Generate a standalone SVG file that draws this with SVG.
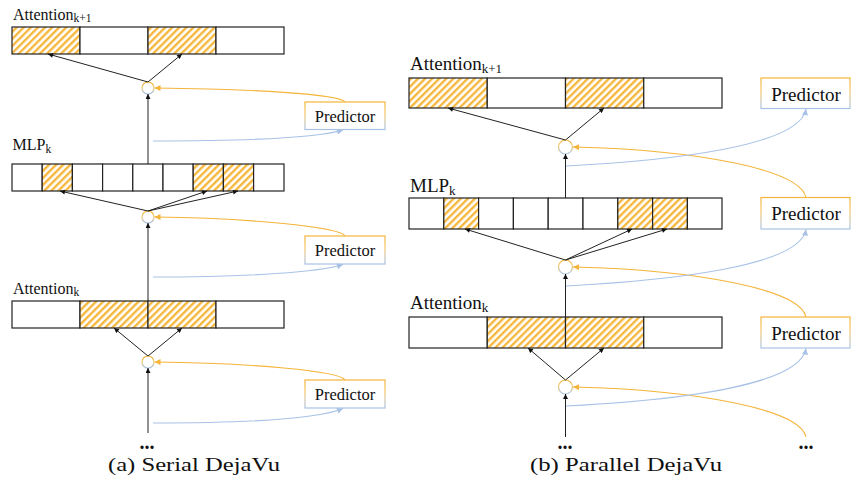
<svg xmlns="http://www.w3.org/2000/svg" width="852" height="496" viewBox="0 0 852 496">
  <style>
    .lbl { font-family: "Liberation Serif", "Tinos", "Times New Roman", "DejaVu Serif", serif; fill: #111; }
    .cap { font-family: "Liberation Serif", "Tinos", "Times New Roman", "DejaVu Serif", serif; fill: #111; font-size: 19px; }
    .cell { fill: #fff; stroke: #222; stroke-width: 1.2; }
    .hatch { fill: url(#stripes); stroke: #222; stroke-width: 1.2; }
    .pbox { fill: #fff; stroke: url(#yb); stroke-width: 1.2; }
    .gate { fill: #fff; stroke: url(#yb); stroke-width: 1.2; }
    .blk { fill: none; stroke: #222; stroke-width: 1; marker-end: url(#ah-k); }
    .yel { fill: none; stroke: #F5B43A; stroke-width: 1.1; marker-end: url(#ah-y); }
    .blu { fill: none; stroke: #A8C2E6; stroke-width: 1.1; marker-end: url(#ah-b); }
    .dots { font-family: "Liberation Serif", "Tinos", "DejaVu Serif", serif; font-weight: bold; font-size: 20px; fill: #111; }
  </style>
  <defs>
    <pattern id="stripes" width="5" height="5" patternUnits="userSpaceOnUse" patternTransform="rotate(45)">
      <rect width="5" height="5" fill="#fff"/>
      <rect width="2.4" height="5" fill="#F6B73C"/>
    </pattern>
    <linearGradient id="yb" x1="0" y1="0" x2="0" y2="1">
      <stop offset="0" stop-color="#F5B43A"/>
      <stop offset="0.45" stop-color="#F5C66A"/>
      <stop offset="1" stop-color="#A8C2E6"/>
    </linearGradient>
    <marker id="ah-k" viewBox="0 0 10 10" refX="10" refY="5" markerWidth="6" markerHeight="5" markerUnits="userSpaceOnUse" orient="auto">
      <path d="M0,0 L10,5 L0,10 z" fill="#111"/>
    </marker>
    <marker id="ah-y" viewBox="0 0 10 10" refX="10" refY="5" markerWidth="7" markerHeight="6" markerUnits="userSpaceOnUse" orient="auto">
      <path d="M0,0 L10,5 L0,10 z" fill="#F5B43A"/>
    </marker>
    <marker id="ah-b" viewBox="0 0 10 10" refX="10" refY="5" markerWidth="7" markerHeight="6" markerUnits="userSpaceOnUse" orient="auto">
      <path d="M0,0 L10,5 L0,10 z" fill="#A8C2E6"/>
    </marker>
  </defs>

  <!-- ===== (a) Serial ===== -->
  <g id="a-att-k1">
    <text class="lbl" x="13" y="19.5" font-size="16">Attention<tspan font-size="11.5" dy="2.5">k+1</tspan></text>
    <rect class="hatch" x="12" y="27" width="68" height="27"/>
    <rect class="cell" x="80" y="27" width="68" height="27"/>
    <rect class="hatch" x="148" y="27" width="68" height="27"/>
    <rect class="cell" x="216" y="27" width="68" height="27"/>
  </g>
  <g id="a-mlp-k">
    <text class="lbl" x="12.5" y="150" font-size="16">MLP<tspan font-size="11.5" dy="2.5">k</tspan></text>
    <rect class="cell" x="12" y="164" width="30.2" height="27"/>
    <rect class="hatch" x="42.2" y="164" width="30.2" height="27"/>
    <rect class="cell" x="72.4" y="164" width="30.2" height="27"/>
    <rect class="cell" x="102.6" y="164" width="30.2" height="27"/>
    <rect class="cell" x="132.8" y="164" width="30.2" height="27"/>
    <rect class="cell" x="163" y="164" width="30.2" height="27"/>
    <rect class="hatch" x="193.2" y="164" width="30.2" height="27"/>
    <rect class="hatch" x="223.4" y="164" width="30.2" height="27"/>
    <rect class="cell" x="253.6" y="164" width="30.4" height="27"/>
  </g>
  <g id="a-att-k">
    <text class="lbl" x="13" y="293.5" font-size="16">Attention<tspan font-size="11.5" dy="2.5">k</tspan></text>
    <rect class="cell" x="12" y="301" width="68" height="27"/>
    <rect class="hatch" x="80" y="301" width="68" height="27"/>
    <rect class="hatch" x="148" y="301" width="68" height="27"/>
    <rect class="cell" x="216" y="301" width="68" height="27"/>
  </g>
  <g id="a-pred-1">
    <rect class="pbox" x="305" y="102" width="80" height="27.5"/>
    <text class="lbl" x="345" y="121.5" font-size="16.5" text-anchor="middle">Predictor</text>
  </g>
  <g id="a-pred-2">
    <rect class="pbox" x="305" y="236" width="80" height="28"/>
    <text class="lbl" x="345" y="255.5" font-size="16.5" text-anchor="middle">Predictor</text>
  </g>
  <g id="a-pred-3">
    <rect class="pbox" x="305" y="380" width="80" height="28"/>
    <text class="lbl" x="345" y="399.5" font-size="16.5" text-anchor="middle">Predictor</text>
  </g>
  <g id="a-gate-1"><circle class="gate" cx="148" cy="88" r="6"/></g>
  <g id="a-gate-2"><circle class="gate" cx="148" cy="217" r="6"/></g>
  <g id="a-gate-3"><circle class="gate" cx="148" cy="362" r="6"/></g>
  <g id="a-more"><text class="dots" x="147" y="449" text-anchor="middle">...</text></g>
  <text class="cap" x="108" y="471" textLength="172" lengthAdjust="spacingAndGlyphs">(a) Serial DejaVu</text>

  <!-- ===== (b) Parallel ===== -->
  <g id="b-att-k1">
    <text class="lbl" x="410" y="69.5" font-size="19">Attention<tspan font-size="13" dy="3">k+1</tspan></text>
    <rect class="hatch" x="409" y="78" width="78.25" height="30"/>
    <rect class="cell" x="487.25" y="78" width="78.25" height="30"/>
    <rect class="hatch" x="565.5" y="78" width="78.25" height="30"/>
    <rect class="cell" x="643.75" y="78" width="78.25" height="30"/>
  </g>
  <g id="b-mlp-k">
    <text class="lbl" x="410" y="191.5" font-size="19">MLP<tspan font-size="13" dy="3">k</tspan></text>
    <rect class="cell" x="409" y="198" width="34.8" height="31"/>
    <rect class="hatch" x="443.8" y="198" width="34.8" height="31"/>
    <rect class="cell" x="478.6" y="198" width="34.8" height="31"/>
    <rect class="cell" x="513.4" y="198" width="34.8" height="31"/>
    <rect class="cell" x="548.2" y="198" width="34.8" height="31"/>
    <rect class="cell" x="583" y="198" width="34.8" height="31"/>
    <rect class="hatch" x="617.8" y="198" width="34.8" height="31"/>
    <rect class="hatch" x="652.6" y="198" width="34.8" height="31"/>
    <rect class="cell" x="687.4" y="198" width="34.6" height="31"/>
  </g>
  <g id="b-att-k">
    <text class="lbl" x="410" y="309" font-size="19">Attention<tspan font-size="13" dy="3">k</tspan></text>
    <rect class="cell" x="409" y="317" width="78.25" height="31"/>
    <rect class="hatch" x="487.25" y="317" width="78.25" height="31"/>
    <rect class="hatch" x="565.5" y="317" width="78.25" height="31"/>
    <rect class="cell" x="643.75" y="317" width="78.25" height="31"/>
  </g>
  <g id="b-pred-1">
    <rect class="pbox" x="761" y="78" width="89" height="30.5"/>
    <text class="lbl" x="806" y="100.5" font-size="19" text-anchor="middle">Predictor</text>
  </g>
  <g id="b-pred-2">
    <rect class="pbox" x="761" y="197.5" width="89" height="31.5"/>
    <text class="lbl" x="806" y="220" font-size="19" text-anchor="middle">Predictor</text>
  </g>
  <g id="b-pred-3">
    <rect class="pbox" x="761" y="317" width="89" height="31"/>
    <text class="lbl" x="806" y="339.5" font-size="19" text-anchor="middle">Predictor</text>
  </g>
  <g id="b-gate-1"><circle class="gate" cx="565.5" cy="147" r="7"/></g>
  <g id="b-gate-2"><circle class="gate" cx="565.5" cy="267" r="7"/></g>
  <g id="b-gate-3"><circle class="gate" cx="565.5" cy="387" r="7"/></g>
  <g id="b-more-1"><text class="dots" x="565" y="449" text-anchor="middle">...</text></g>
  <g id="b-more-2"><text class="dots" x="806" y="449" text-anchor="middle">...</text></g>
  <text class="cap" x="530" y="471" textLength="192" lengthAdjust="spacingAndGlyphs">(b) Parallel DejaVu</text>

  <!-- ===== connectors ===== -->
  <g id="connectors">
    <!-- serial: gate fan-out -->
    <line class="blk" x1="148" y1="82" x2="48" y2="54"/>
    <line class="blk" x1="148" y1="82" x2="182" y2="54"/>
    <line class="blk" x1="148" y1="211" x2="60" y2="191"/>
    <line class="blk" x1="148" y1="211" x2="207" y2="191"/>
    <line class="blk" x1="148" y1="211" x2="238" y2="191"/>
    <line class="blk" x1="148" y1="356" x2="114" y2="328"/>
    <line class="blk" x1="148" y1="356" x2="182" y2="328"/>
    <!-- serial: vertical feeds -->
    <line class="blk" x1="148" y1="164" x2="148" y2="94"/>
    <line class="blk" x1="148" y1="301" x2="148" y2="223"/>
    <line class="blk" x1="148" y1="433" x2="148" y2="368"/>
    <!-- serial: predictor outputs -->
    <path class="yel" d="M345,102 C340,94 250,89 154.5,88"/>
    <path class="yel" d="M345,236 C340,227 250,218 154.5,217"/>
    <path class="yel" d="M345,380 C340,371 250,363 154.5,362"/>
    <!-- serial: predictor inputs -->
    <path class="blu" d="M153,141 C250,141 320,137 343,130"/>
    <path class="blu" d="M153,277 C250,277 320,272 343,264.5"/>
    <path class="blu" d="M153,423 C250,423 320,418 343,408.5"/>

    <!-- parallel: gate fan-out -->
    <line class="blk" x1="565.5" y1="140" x2="448" y2="108"/>
    <line class="blk" x1="565.5" y1="140" x2="604" y2="108"/>
    <line class="blk" x1="565.5" y1="260" x2="465" y2="229"/>
    <line class="blk" x1="565.5" y1="260" x2="632" y2="229"/>
    <line class="blk" x1="565.5" y1="260" x2="667" y2="229"/>
    <line class="blk" x1="565.5" y1="380" x2="528" y2="348"/>
    <line class="blk" x1="565.5" y1="380" x2="604" y2="348"/>
    <!-- parallel: vertical feeds -->
    <line class="blk" x1="565.5" y1="198" x2="565.5" y2="154"/>
    <line class="blk" x1="565.5" y1="317" x2="565.5" y2="274"/>
    <line class="blk" x1="565.5" y1="437" x2="565.5" y2="394"/>
    <!-- parallel: predictor outputs -->
    <path class="yel" d="M806,197.5 C800,170 700,150 573,147"/>
    <path class="yel" d="M806,317 C800,290 700,270 573,267"/>
    <path class="yel" d="M806,437 C800,410 700,390 573,387"/>
    <!-- parallel: predictor inputs -->
    <path class="blu" d="M566,166 C680,160 800,145 806,109"/>
    <path class="blu" d="M566,286 C680,280 800,265 806,229.5"/>
    <path class="blu" d="M566,406 C680,400 800,385 806,348.5"/>
  </g>
</svg>
